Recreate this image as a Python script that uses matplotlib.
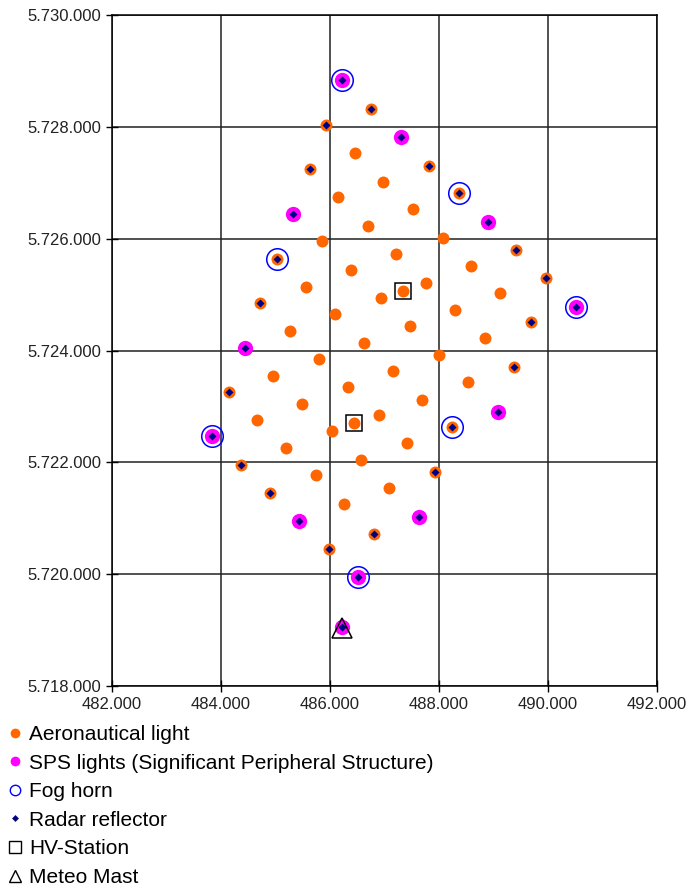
import matplotlib.pyplot as plt
from matplotlib.lines import Line2D
from matplotlib.ticker import FuncFormatter, MultipleLocator

plt.rcParams['font.family'] = ['Liberation Sans', 'DejaVu Sans']

# Aeronautical lights (easting / northing)
aero_x = [486460, 486980, 486150, 487520, 486690, 485860, 488070, 487215, 486385, 488595,
          485555, 487755, 487345, 486935, 489125, 486090, 488300, 485260, 487470, 488845,
          486630, 488000, 485805, 487160, 484955, 488525, 486335, 487695, 485485, 486890,
          484655, 486440, 486030, 485200, 487405, 486575, 485740, 487090, 486265,
          486745, 485920, 485635, 487815, 488360, 485035, 489420, 489960, 484715, 489685,
          489370, 484145, 488245, 484375, 487935, 484900, 486805, 485980]
aero_y = [5727535, 5727020, 5726750, 5726535, 5726235, 5725950, 5726020, 5725725, 5725440, 5725520,
          5725145, 5725215, 5725070, 5724935, 5725020, 5724655, 5724730, 5724350, 5724440, 5724225,
          5724140, 5723925, 5723850, 5723630, 5723545, 5723435, 5723350, 5723115, 5723050, 5722845,
          5722755, 5722700, 5722555, 5722260, 5722340, 5722045, 5721770, 5721535, 5721250,
          5728320, 5728035, 5727250, 5727300, 5726825, 5725635, 5725805, 5725300, 5724845, 5724505,
          5723705, 5723255, 5722640, 5721955, 5721835, 5721445, 5720725, 5720455]

# SPS lights
sps_x = [486225, 487305, 485325, 488905, 490515, 484440, 489075, 483830, 485430, 487640, 486520, 486220]
sps_y = [5728830, 5727810, 5726445, 5726305, 5724785, 5724040, 5722905, 5722470, 5720955, 5721020,
         5719945, 5719060]

# fog horns
fog_x = [486225, 488360, 485035, 490515, 483830, 488245, 486520]
fog_y = [5728830, 5726825, 5725635, 5724785, 5722470, 5722640, 5719945]

# radar reflectors
radar_x = [486745, 485920, 485635, 487815, 488360, 485035, 489420, 489960, 484715, 489685,
           489370, 484145, 488245, 484375, 487935, 484900, 486805, 485980,
           486225, 487305, 485325, 488905, 490515, 484440, 489075, 483830, 485430, 487640,
           486520, 486220]
radar_y = [5728320, 5728035, 5727250, 5727300, 5726825, 5725635, 5725805, 5725300, 5724845, 5724505,
           5723705, 5723255, 5722640, 5721955, 5721835, 5721445, 5720725, 5720455,
           5728830, 5727810, 5726445, 5726305, 5724785, 5724040, 5722905, 5722470, 5720955, 5721020,
           5719945, 5719060]

hv_x = [487345, 486440]
hv_y = [5725070, 5722700]

mast_x = [486220]
mast_y = [5719030]

labels = ['Aeronautical light', 'SPS lights (Significant Peripheral Structure)', 'Fog horn',
          'Radar reflector', 'HV-Station', 'Meteo Mast']

fig = plt.figure(figsize=(6.89, 8.89), dpi=100)
ax = fig.add_axes([0.1626, 0.2283, 0.7910, 0.7548])

ax.plot(aero_x, aero_y, 'o', color='#FF6600', ms=8.6, mec='none', zorder=3)
ax.plot(sps_x, sps_y, 'o', color='#FF00FF', ms=11, mec='none', zorder=4)
ax.plot(fog_x, fog_y, 'o', mfc='none', mec='#0000FF', ms=15.5, mew=1.1, zorder=5)
ax.plot(radar_x, radar_y, 'D', color='#000080', ms=4, mec='none', zorder=6)
ax.plot(hv_x, hv_y, 's', mfc='none', mec='black', ms=11.5, mew=1.1, zorder=7)
ax.plot(mast_x, mast_y, '^', mfc='none', mec='black', ms=15, mew=1.1, zorder=7)

ax.set_xlim(482000, 492000)
ax.set_ylim(5718000, 5730000)
ax.xaxis.set_major_locator(MultipleLocator(2000))
ax.yaxis.set_major_locator(MultipleLocator(2000))
fmt = FuncFormatter(lambda v, p: f"{int(round(v)):,}".replace(',', '.'))
ax.xaxis.set_major_formatter(fmt)
ax.yaxis.set_major_formatter(fmt)
ax.tick_params(direction='inout', length=8, width=1, labelsize=12, colors='black',
               labelcolor='#222222', pad=4)
ax.grid(True, color='#222222', lw=1.1)
ax.set_axisbelow(True)
for s in ax.spines.values():
    s.set_color('black')
    s.set_linewidth(1.1)

# legend uses smaller proxy markers, like the original
handles = [
    Line2D([], [], ls='none', marker='o', color='#FF6600', mec='none', ms=7),
    Line2D([], [], ls='none', marker='o', color='#FF00FF', mec='none', ms=7),
    Line2D([], [], ls='none', marker='o', mfc='none', mec='#0000FF', ms=7.5, mew=1),
    Line2D([], [], ls='none', marker='D', color='#000080', mec='none', ms=3.5),
    Line2D([], [], ls='none', marker='s', mfc='none', mec='black', ms=8, mew=1),
    Line2D([], [], ls='none', marker='^', mfc='none', mec='black', ms=9, mew=1),
]
fig.legend(handles, labels, loc='upper left', bbox_to_anchor=(0.010, 0.1845), frameon=False,
           fontsize=15, handlelength=0.8, handletextpad=0.25, labelspacing=0.46,
           borderaxespad=0, borderpad=0)

fig.savefig('out.png', dpi=100)
